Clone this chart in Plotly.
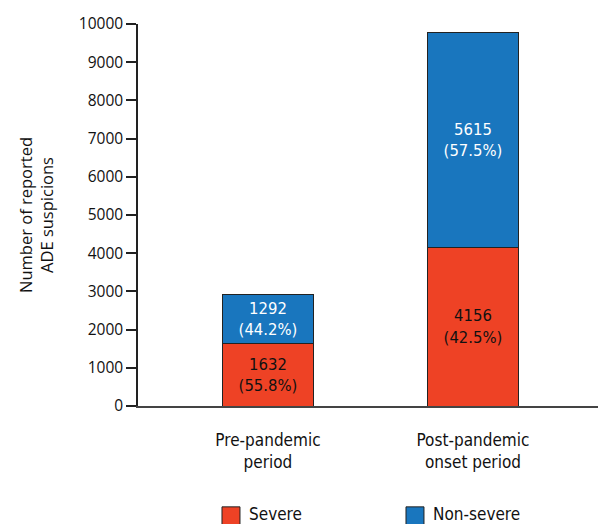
import plotly.graph_objects as go

categories = ["Pre-pandemic<br>period", "Post-pandemic<br>onset period"]
severe = [1632, 4156]
non_severe = [1292, 5615]
severe_pct = ["55.8%", "42.5%"]
non_severe_pct = ["44.2%", "57.5%"]
y_ticks = list(range(0, 10001, 1000))
y_tick_text = [str(v) for v in y_ticks]
series_names = ["Severe", "Non-severe"]
series_colors = ["#EE4225", "#1976BE"]

x_pos = [0, 1]
font = "Open Sans, DejaVu Sans, sans-serif"
font2 = "DejaVu Sans Condensed, Open Sans, sans-serif"

fig = go.Figure()
fig.add_trace(go.Bar(
    x=x_pos, y=severe, name=series_names[0], width=0.444,
    marker=dict(color=series_colors[0], line=dict(color="#222222", width=1)),
    text=[f"{v}<br>({p})" for v, p in zip(severe, severe_pct)],
    textposition="inside", insidetextanchor="middle", textangle=0,
    constraintext="none",
    textfont=dict(color="#111111", size=16.5, family=font2),
))
fig.add_trace(go.Bar(
    x=x_pos, y=non_severe, name=series_names[1], width=0.444,
    marker=dict(color=series_colors[1], line=dict(color="#222222", width=1)),
    text=[f"{v}<br>({p})" for v, p in zip(non_severe, non_severe_pct)],
    textposition="inside", insidetextanchor="middle", textangle=0,
    constraintext="none",
    textfont=dict(color="#ffffff", size=16.5, family=font2),
))

# Manual legend (paper coordinates)
leg_x = [0.1826, 0.5826]
sw_w = 0.0391
for i, (name, col) in enumerate(zip(series_names, series_colors)):
    fig.add_shape(type="rect", xref="paper", yref="paper",
                  x0=leg_x[i], x1=leg_x[i] + sw_w, y0=-0.316, y1=-0.264,
                  fillcolor=col, line=dict(color="#222222", width=1))
    fig.add_annotation(xref="paper", yref="paper", x=leg_x[i] + sw_w + 0.016,
                       y=-0.283, xanchor="left", yanchor="middle",
                       text=name, showarrow=False,
                       font=dict(size=17, family=font2, color="#111111"))

fig.update_layout(
    barmode="stack",
    width=598, height=524,
    margin=dict(l=138, r=0, t=24, b=118, autoexpand=False),
    paper_bgcolor="white", plot_bgcolor="white",
    font=dict(family=font, size=15, color="#111111"),
    showlegend=False,
    xaxis=dict(
        range=[-0.634, 1.61], tickmode="array", tickvals=x_pos, ticktext=categories,
        showline=True, linecolor="#444444", linewidth=1.5,
        ticks="outside", ticklen=18, tickcolor="rgba(0,0,0,0)",
        tickfont=dict(size=17, family=font2), showgrid=False, zeroline=False,
        fixedrange=True,
    ),
    yaxis=dict(
        range=[0, 10000], tickmode="array", tickvals=y_ticks, ticktext=y_tick_text,
        showline=True, linecolor="#222222", linewidth=1.5,
        ticks="outside", ticklen=10, tickcolor="#222222", tickwidth=1.5,
        tickfont=dict(size=15.5, family=font), showgrid=False, zeroline=False,
        title=dict(text="Number of reported<br>ADE suspicions", standoff=21,
                   font=dict(size=16.5, family=font)),
    ),
)

fig.write_html("out.html")
